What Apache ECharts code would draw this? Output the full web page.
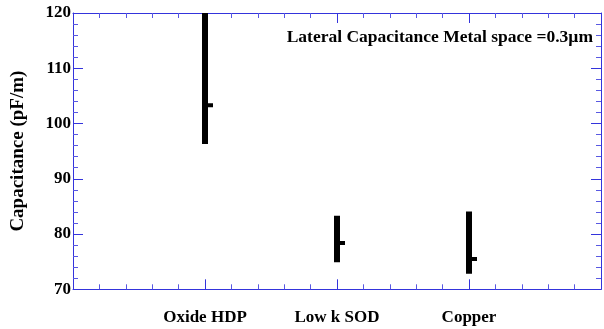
<!DOCTYPE html>
<html>
<head>
<meta charset="utf-8">
<script src="https://cdn.jsdelivr.net/npm/echarts@6/dist/echarts.min.js"></script>
<style>
html,body{margin:0;padding:0;background:#fff;}
#chart{width:604px;height:329px;}
</style>
</head>
<body>
<div id="chart"></div>
<script>
var categories = ['Oxide HDP', 'Low k SOD', 'Copper'];
var categoryPositions = [1, 2, 3];
var lowValues = [96.3, 74.9, 72.8];
var highValues = [120, 83.3, 84.1];
var meanValues = [103.3, 78.4, 75.5];
var yTicks = [70, 80, 90, 100, 110, 120];
var titleText = 'Lateral Capacitance Metal space =0.3\u00b5m';
var yName = 'Capacitance (pF/m)';

var FONT = 'Liberation Serif';
var AX = '#3434dc';

var data = categories.map(function (c, i) {
  return [categoryPositions[i], lowValues[i], highValues[i], meanValues[i]];
});

function axisCommon() {
  return {
    axisLine: { show: true, onZero: false, lineStyle: { color: AX, width: 1 } },
    axisTick: { show: true, inside: true, length: 10, lineStyle: { color: AX, width: 1 } },
    minorTick: { show: true, splitNumber: 5, length: 5, lineStyle: { color: '#5858e2', width: 1 } },
    splitLine: { show: false },
    minorSplitLine: { show: false }
  };
}

var option = {
  animation: false,
  backgroundColor: '#fff',
  grid: { left: 73, right: -4.5, top: 13, bottom: 39.7, containLabel: false },
  graphic: [{
    type: 'text',
    right: 11,
    top: 28,
    style: {
      text: titleText,
      font: 'bold 17.5px "Liberation Serif"',
      fill: '#000'
    }
  }],
  xAxis: [
    Object.assign(axisCommon(), {
      type: 'value', min: 0, max: 4, interval: 1, position: 'bottom',
      axisLabel: {
        show: true, margin: 20, color: '#000', fontFamily: FONT, fontWeight: 'bold', fontSize: 17,
        formatter: function (v) {
          var idx = categoryPositions.indexOf(v);
          return idx >= 0 ? categories[idx] : '';
        }
      }
    }),
    Object.assign(axisCommon(), {
      type: 'value', min: 0, max: 4, interval: 1, position: 'top',
      axisLabel: { show: false }
    })
  ],
  yAxis: [
    Object.assign(axisCommon(), {
      type: 'value', min: yTicks[0], max: yTicks[yTicks.length - 1], interval: 10, position: 'left',
      name: yName, nameLocation: 'middle', nameGap: 45,
      nameTextStyle: { fontFamily: FONT, fontWeight: 'bold', fontSize: 19, color: '#000' },
      axisLabel: { show: true, margin: 2, color: '#000', fontFamily: FONT, fontWeight: 'bold', fontSize: 17 }
    }),
    Object.assign(axisCommon(), {
      type: 'value', min: yTicks[0], max: yTicks[yTicks.length - 1], interval: 10, position: 'right',
      axisLabel: { show: false }
    })
  ],
  series: [{
    type: 'custom',
    xAxisIndex: 0, yAxisIndex: 0,
    data: data,
    clip: true,
    renderItem: function (params, api) {
      var x = api.value(0);
      var lo = api.coord([x, api.value(1)]);
      var hi = api.coord([x, api.value(2)]);
      var mn = api.coord([x, api.value(3)]);
      var w = 6;
      return {
        type: 'group',
        children: [
          { type: 'rect', shape: { x: lo[0] - w / 2, y: hi[1], width: w, height: lo[1] - hi[1] }, style: { fill: '#000' } },
          { type: 'rect', shape: { x: mn[0] + w / 2, y: mn[1] - 2, width: 5, height: 4 }, style: { fill: '#000' } }
        ]
      };
    }
  }]
};

var chart = echarts.init(document.getElementById('chart'), null, { renderer: 'canvas' });
chart.setOption(option);
</script>
</body>
</html>
